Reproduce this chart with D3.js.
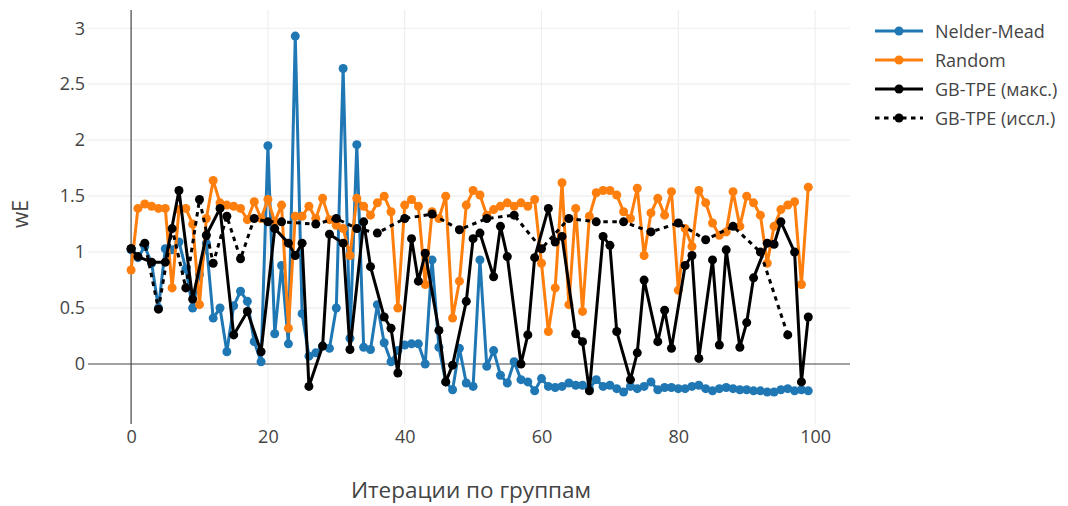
<!DOCTYPE html>
<html><head><meta charset="utf-8">
<script src="https://cdn.jsdelivr.net/npm/d3@7"></script>
<style>
html,body{margin:0;padding:0;background:#fff;}
svg{display:block;font-family:"Open Sans",sans-serif;}
</style></head>
<body>
<svg id="chart" width="1068" height="506"></svg>
<script>
// ---- data ----
const iterations = d3.range(0, 100);
const nelderMead = [1.02,0.95,1.05,0.9,0.5,1.03,1.02,1.09,0.85,0.5,
  0.8,1.08,0.41,0.5,0.11,0.52,0.65,0.56,0.2,0.02,
  1.95,0.27,0.88,0.18,2.93,0.45,0.07,0.1,0.16,0.14,
  0.5,2.64,0.23,1.96,0.15,0.13,0.53,0.19,0.02,0.12,
  0.17,0.18,0.18,0.0,0.93,0.15,-0.16,-0.23,0.14,-0.17,
  -0.2,0.93,-0.02,0.12,-0.1,-0.17,0.02,-0.14,-0.16,-0.24,
  -0.13,-0.2,-0.21,-0.2,-0.17,-0.19,-0.19,-0.22,-0.14,-0.2,
  -0.19,-0.22,-0.25,-0.2,-0.22,-0.2,-0.16,-0.23,-0.21,-0.21,
  -0.22,-0.22,-0.2,-0.19,-0.22,-0.24,-0.22,-0.21,-0.22,-0.23,
  -0.23,-0.24,-0.24,-0.25,-0.25,-0.23,-0.22,-0.24,-0.23,-0.24];
const random = [0.84,1.39,1.43,1.41,1.39,1.39,0.68,1.38,1.39,1.25,
  0.53,1.3,1.64,1.44,1.42,1.41,1.39,1.29,1.45,1.3,
  1.47,1.27,1.42,0.32,1.32,1.32,1.41,1.3,1.48,1.29,
  1.24,1.21,0.97,1.48,1.41,1.33,1.44,1.5,1.36,0.5,
  1.42,1.47,1.41,0.71,1.36,1.3,1.5,0.41,0.74,1.42,
  1.55,1.51,1.33,1.38,1.41,1.44,1.41,1.44,1.41,1.47,
  0.9,0.29,0.68,1.62,0.53,1.39,0.47,1.32,1.53,1.55,
  1.55,1.51,1.36,1.3,1.57,0.97,1.35,1.48,1.33,1.54,
  0.66,1.21,1.05,1.55,1.44,1.26,1.15,1.18,1.54,1.23,
  1.5,1.44,1.33,0.9,1.23,1.38,1.42,1.45,0.71,1.58];
const tpeMaxX = [0,1,3,5,7,9,11,13,15,17,19,21,23,24,25,26,28,29,31,32,34,35,37,38,39,
  41,42,43,45,46,47,49,50,51,53,54,55,57,58,59,61,62,63,65,66,67,69,70,71,73,74,75,
  77,78,79,81,82,83,85,86,87,89,90,91,93,94,95,97,98,99];
const tpeMaxY = [1.03,0.96,0.91,0.91,1.55,0.58,1.15,1.39,0.26,0.47,0.11,1.21,1.08,0.97,1.08,-0.2,0.16,1.16,1.08,0.13,1.27,0.87,0.42,0.32,-0.08,
  1.12,0.74,0.99,0.3,-0.16,-0.01,0.56,1.12,1.17,0.78,1.23,0.96,0.0,0.26,0.95,1.39,1.09,1.14,0.27,0.2,-0.24,1.14,1.06,0.29,-0.14,0.1,0.75,
  0.2,0.48,0.14,0.88,0.97,0.05,0.93,0.17,1.02,0.15,0.37,0.77,1.08,1.07,1.27,1.0,-0.16,0.42];
const tpeExpX = [0,2,4,6,8,10,12,14,16,18,20,22,27,30,33,36,40,44,48,52,56,60,64,68,72,76,80,84,88,92,96];
const tpeExpY = [1.03,1.08,0.49,1.21,0.68,1.47,0.9,1.32,0.94,1.3,1.27,1.27,1.25,1.3,1.21,1.17,1.3,1.34,1.2,1.3,1.33,1.03,1.3,1.27,1.27,1.18,1.26,1.11,1.23,1.0,0.26];
const xTicks = [0,20,40,60,80,100];
const yTicks = [0,0.5,1,1.5,2,2.5,3];
const seriesNames = ["Nelder-Mead","Random","GB-TPE (макс.)","GB-TPE (иссл.)"];
const seriesColors = ["#1f77b4","#ff7f0e","#000000","#000000"];
const xTitle = "Итерации по группам";
const yTitle = "wE";

// ---- layout ----
const L = 88, R = 850, T = 10, B = 424;
const svg = d3.select("#chart");
const x = d3.scaleLinear().domain([-6.3, 105.1]).range([L, R]);
const y = d3.scaleLinear().domain([-0.536, 3.163]).range([B, T]);

// grid
const g = svg.append("g");
g.selectAll(".gx").data(xTicks.filter(d => d !== 0)).join("line")
  .attr("x1", d => x(d)).attr("x2", d => x(d)).attr("y1", T).attr("y2", B)
  .attr("stroke", "#eee").attr("stroke-width", 1.2);
g.selectAll(".gy").data(yTicks.filter(d => d !== 0)).join("line")
  .attr("x1", L).attr("x2", R).attr("y1", d => y(d)).attr("y2", d => y(d))
  .attr("stroke", "#eee").attr("stroke-width", 1.2);
// zero lines
g.append("line").attr("x1", x(0)).attr("x2", x(0)).attr("y1", T).attr("y2", B)
  .attr("stroke", "#444").attr("stroke-width", 1.2);
g.append("line").attr("x1", L).attr("x2", R).attr("y1", y(0)).attr("y2", y(0))
  .attr("stroke", "#444").attr("stroke-width", 1.2);

// axes
const ax = svg.append("g").attr("transform", `translate(0,${B})`)
  .call(d3.axisBottom(x).tickValues(xTicks).tickSize(0).tickPadding(6).tickFormat(d => String(d)));
const ay = svg.append("g").attr("transform", `translate(${L},0)`)
  .call(d3.axisLeft(y).tickValues(yTicks).tickSize(0).tickPadding(3).tickFormat(d => String(d)));
[ax, ay].forEach(a => {
  a.select(".domain").remove();
  a.selectAll("text").attr("font-size", 18).attr("fill", "#444").attr("font-family", "'Open Sans',sans-serif");
});

svg.append("text").attr("x", 471).attr("y", 498).attr("text-anchor", "middle")
  .attr("font-size", 22.5).attr("fill", "#444").text(xTitle);
svg.append("text").attr("transform", "translate(28,214) rotate(-90)").attr("text-anchor", "middle")
  .attr("font-size", 21).attr("fill", "#444").text(yTitle);

// series
const series = [
  {xs: iterations, ys: nelderMead, dash: null},
  {xs: iterations, ys: random, dash: null},
  {xs: tpeMaxX, ys: tpeMaxY, dash: null},
  {xs: tpeExpX, ys: tpeExpY, dash: "4.5,4.5"}
];
const line = d3.line().x(d => x(d[0])).y(d => y(d[1]));
const plot = svg.append("g");
series.forEach((s, k) => {
  const pts = s.xs.map((xv, i) => [xv, s.ys[i]]);
  plot.append("path").datum(pts).attr("d", line).attr("fill", "none")
    .attr("stroke", seriesColors[k]).attr("stroke-width", 3)
    .attr("stroke-linejoin", "round")
    .attr("stroke-dasharray", s.dash);
  plot.append("g").selectAll("circle").data(pts).join("circle")
    .attr("cx", d => x(d[0])).attr("cy", d => y(d[1])).attr("r", 4.5)
    .attr("fill", seriesColors[k]);
});

// legend
const leg = svg.append("g");
seriesNames.forEach((name, k) => {
  const cy = 31 + k * 29;
  leg.append("line").attr("x1", 875).attr("x2", 923).attr("y1", cy).attr("y2", cy)
    .attr("stroke", seriesColors[k]).attr("stroke-width", 3)
    .attr("stroke-dasharray", series[k].dash);
  leg.append("circle").attr("cx", 899).attr("cy", cy).attr("r", 4.5).attr("fill", seriesColors[k]);
  leg.append("text").attr("x", 935).attr("y", cy + 6.5).attr("font-size", 18)
    .attr("fill", "#444").text(name);
});
</script>
</body></html>
